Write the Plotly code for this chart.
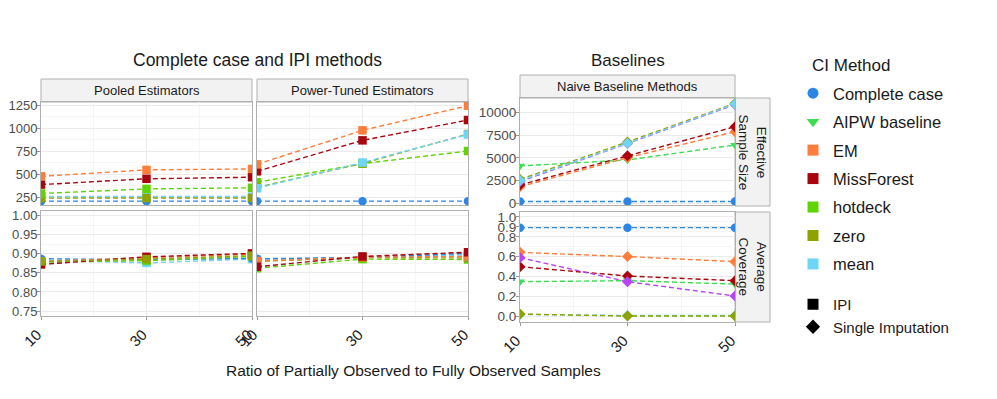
import plotly.graph_objects as go

# page body has an 8px margin, so the figure is drawn inset by OFF
OFF = 8
W, H = 997 - 2 * OFF, 399 - 2 * OFF

ratio = [10, 30, 50]

# effective sample size, IPI (pooled estimators)
ess_pool_cc = [205, 205, 205]
ess_pool_em = [475, 545, 555]
ess_pool_mf = [385, 448, 465]
ess_pool_hd = [288, 338, 350]
ess_pool_zero = [238, 238, 240]
ess_pool_mean = [255, 255, 255]

# effective sample size, IPI (power-tuned)
ess_pt_cc = [205, 205, 205]
ess_pt_em = [605, 975, 1243]
ess_pt_mf = [529, 866, 1087]
ess_pt_hd = [410, 613, 750]
ess_pt_zero = [355, 615, 935]
ess_pt_mean = [345, 625, 930]

# average coverage, IPI (pooled)
cov_pool_cc = [0.887, 0.884, 0.888]
cov_pool_em = [0.880, 0.889, 0.899]
cov_pool_mf = [0.872, 0.892, 0.901]
cov_pool_hd = [0.878, 0.882, 0.893]
cov_pool_zero = [0.880, 0.886, 0.895]
cov_pool_mean = [0.883, 0.876, 0.886]

# average coverage, IPI (power-tuned)
cov_pt_cc = [0.887, 0.890, 0.901]
cov_pt_em = [0.881, 0.891, 0.893]
cov_pt_mf = [0.866, 0.893, 0.904]
cov_pt_hd = [0.862, 0.886, 0.885]
cov_pt_zero = [0.880, 0.890, 0.889]
cov_pt_mean = [0.885, 0.891, 0.897]

# naive baselines
ess_nv_cc = [200, 200, 200]
ess_nv_aipw = [4120, 4780, 6430]
ess_nv_em = [1830, 5030, 7900]
ess_nv_mf = [2020, 5250, 8450]
ess_nv_zero = [2640, 6770, 11030]
ess_nv_mean = [2500, 6620, 10960]
ess_nv_other = [2400, 6600, 10900]

cov_nv_cc = [0.892, 0.892, 0.892]
cov_nv_aipw = [0.347, 0.357, 0.323]
cov_nv_em = [0.643, 0.600, 0.549]
cov_nv_mf = [0.498, 0.404, 0.357]
cov_nv_zero = [0.02, 0.0, 0.0]
cov_nv_mean = [0.017, 0.005, 0.005]
cov_nv_other = [0.589, 0.347, 0.202]

ess_ticks = [250, 500, 750, 1000, 1250]
cov_ticks = [0.75, 0.80, 0.85, 0.90, 0.95, 1.00]
nv_ess_ticks = [0, 2500, 5000, 7500, 10000]
nv_ess_text = ["0", "2500", "5000", "7500", "10000"]
nv_cov_ticks = [0.0, 0.2, 0.4, 0.6, 0.8, 0.9, 1.0]
nv_cov_text = ["0.0", "0.2", "0.4", "0.6", "0.8", "0.9", "1.0"]

colors = {
    "Complete case": "#2B86E8",
    "AIPW baseline": "#3EDC52",
    "EM": "#FF7D3B",
    "MissForest": "#A8050F",
    "hotdeck": "#5ED400",
    "zero": "#8FA300",
    "mean": "#6ED6F5",
    "other": "#B545F5",
}
symbols = {"Complete case": "circle", "AIPW baseline": "triangle-down"}


def px(x):
    return (x - OFF) / W


def py(y):
    return 1 - (y - OFF) / H


def xd(a, b):
    return [px(a), px(b)]


def yd(top, bottom):
    return [py(bottom), py(top)]


fig = go.Figure()


def add_series(name, ys, ax, default_symbol):
    fig.add_trace(go.Scatter(
        x=ratio, y=ys, mode="lines+markers", name=name, showlegend=False,
        xaxis="x" + ax, yaxis="y" + ax,
        line=dict(color=colors[name], width=1.4, dash="5px,3px"),
        marker=dict(color=colors[name], size=8.5, symbol=symbols.get(name, default_symbol)),
    ))


panels = [
    ("", "square", [("Complete case", ess_pool_cc), ("mean", ess_pool_mean), ("zero", ess_pool_zero),
                    ("hotdeck", ess_pool_hd), ("MissForest", ess_pool_mf), ("EM", ess_pool_em)]),
    ("2", "square", [("Complete case", ess_pt_cc), ("hotdeck", ess_pt_hd), ("zero", ess_pt_zero),
                     ("mean", ess_pt_mean), ("MissForest", ess_pt_mf), ("EM", ess_pt_em)]),
    ("3", "diamond", [("Complete case", ess_nv_cc), ("AIPW baseline", ess_nv_aipw), ("EM", ess_nv_em),
                      ("MissForest", ess_nv_mf), ("zero", ess_nv_zero), ("other", ess_nv_other),
                      ("mean", ess_nv_mean)]),
    ("4", "square", [("mean", cov_pool_mean), ("Complete case", cov_pool_cc), ("hotdeck", cov_pool_hd),
                     ("EM", cov_pool_em), ("MissForest", cov_pool_mf), ("zero", cov_pool_zero)]),
    ("5", "square", [("mean", cov_pt_mean), ("Complete case", cov_pt_cc), ("hotdeck", cov_pt_hd),
                     ("zero", cov_pt_zero), ("EM", cov_pt_em), ("MissForest", cov_pt_mf)]),
    ("6", "diamond", [("Complete case", cov_nv_cc), ("AIPW baseline", cov_nv_aipw), ("EM", cov_nv_em),
                      ("MissForest", cov_nv_mf), ("mean", cov_nv_mean), ("zero", cov_nv_zero),
                      ("other", cov_nv_other)]),
]
for ax, sym, series in panels:
    for name, ys in series:
        add_series(name, ys, ax, sym)

# legend entries
for name in ["Complete case", "AIPW baseline", "EM", "MissForest", "hotdeck", "zero", "mean"]:
    fig.add_trace(go.Scatter(
        x=[None], y=[None], mode="markers", name=name, legend="legend", legendgroup=name,
        marker=dict(color=colors[name], size=11, symbol=symbols.get(name, "square")),
    ))
for name, sym in [("IPI", "square"), ("Single Imputation", "diamond")]:
    fig.add_trace(go.Scatter(
        x=[None], y=[None], mode="markers", name=name, legend="legend2",
        marker=dict(color="black", size=11, symbol=sym),
    ))

grid = "#EBEBEB"
border = "#B0B0B0"


def xaxis(dom, anchor, labels):
    return dict(
        domain=dom, anchor=anchor, range=[10, 50], tickvals=ratio, automargin=False,
        showticklabels=labels, tickangle=-45, tickfont=dict(size=15, color="#1A1A1A"),
        ticklabelshift=-4,
        ticks="outside" if labels else "", ticklen=3, tickcolor="#999999",
        showgrid=True, gridcolor=grid, gridwidth=1,
        minor=dict(tickvals=[20, 40], showgrid=True, gridcolor="#F5F5F5"),
        showline=True, mirror=True, linecolor=border, linewidth=1, zeroline=False,
    )


def yaxis(dom, anchor, rng, ticks, labels, fmt=None, text=None, size=13):
    d = dict(
        domain=dom, anchor=anchor, range=rng, tickvals=ticks, automargin=False,
        showticklabels=labels, tickfont=dict(size=size, color="#4D4D4D"), ticklabelstandoff=-3,
        ticks="outside" if labels else "", ticklen=3, tickcolor="#999999",
        showgrid=True, gridcolor=grid, gridwidth=1,
        minor=dict(showgrid=True, gridcolor="#F5F5F5",
                   tickvals=[(a + b) / 2 for a, b in zip(ticks[:-1], ticks[1:])]),
        showline=True, mirror=True, linecolor=border, linewidth=1, zeroline=False,
    )
    if fmt:
        d["tickformat"] = fmt
    if text:
        d["ticktext"] = text
    return d


top_l = yd(102, 205)
bot_l = yd(211, 316)
top_r = yd(98, 205)
bot_r = yd(212, 322)

fig.update_layout(
    width=W, height=H,
    margin=dict(l=0, r=0, t=0, b=0, autoexpand=False),
    paper_bgcolor="white", plot_bgcolor="white",
    font=dict(family="Liberation Sans, Arial, sans-serif", color="#1A1A1A"),
    xaxis=xaxis(xd(41, 252), "y", False),
    yaxis=yaxis(top_l, "x", [163, 1283], ess_ticks, True),
    xaxis2=xaxis(xd(257, 468), "y2", False),
    yaxis2=yaxis(top_l, "x2", [163, 1283], ess_ticks, False),
    xaxis3=xaxis(xd(520, 735), "y3", False),
    yaxis3=yaxis(top_r, "x3", [-190, 11620], nv_ess_ticks, True, text=nv_ess_text, size=13.5),
    xaxis4=xaxis(xd(41, 252), "y4", True),
    yaxis4=yaxis(bot_l, "x4", [0.737, 1.012], cov_ticks, True, fmt=".2f"),
    xaxis5=xaxis(xd(257, 468), "y5", True),
    yaxis5=yaxis(bot_l, "x5", [0.737, 1.012], cov_ticks, False),
    xaxis6=xaxis(xd(520, 735), "y6", True),
    yaxis6=yaxis(bot_r, "x6", [-0.06, 1.05], nv_cov_ticks, True, text=nv_cov_text, size=13.5),
    legend=dict(x=px(793), y=py(76), xanchor="left", yanchor="top",
                font=dict(size=16.5, color="#1A1A1A"), bgcolor="rgba(0,0,0,0)",
                traceorder="grouped", tracegroupgap=4),
    legend2=dict(x=px(793), y=py(288), xanchor="left", yanchor="top",
                 font=dict(size=15, color="#1A1A1A"), bgcolor="rgba(0,0,0,0)"),
)

shapes = []
annotations = []


def strip(x0, x1, y0, y1, text, angle=0, size=13):
    shapes.append(dict(type="rect", xref="paper", yref="paper",
                       x0=px(x0), x1=px(x1), y0=py(y1), y1=py(y0),
                       fillcolor="#F2F2F2", line=dict(color=border, width=1), layer="below"))
    annotations.append(dict(xref="paper", yref="paper", x=px((x0 + x1) / 2), y=py((y0 + y1) / 2),
                            text=text, showarrow=False, textangle=angle,
                            font=dict(size=size, color="#1A1A1A"), xanchor="center", yanchor="middle"))


strip(41, 252, 79, 102, "Pooled Estimators")
strip(257, 468, 79, 102, "Power-Tuned Estimators")
strip(520, 735, 75, 98, "Naive Baseline Methods")
strip(735, 770, 98, 206, "Effective<br>Sample Size", angle=90, size=13.5)
strip(735, 770, 212, 322, "Average<br>Coverage", angle=90, size=13.5)

annotations += [
    dict(xref="paper", yref="paper", x=px(258), y=py(60), text="Complete case and IPI methods",
         showarrow=False, font=dict(size=17.5, color="#1A1A1A"), xanchor="center", yanchor="middle"),
    dict(xref="paper", yref="paper", x=px(628), y=py(60), text="Baselines",
         showarrow=False, font=dict(size=17, color="#1A1A1A"), xanchor="center", yanchor="middle"),
    dict(xref="paper", yref="paper", x=px(413), y=py(370),
         text="Ratio of Partially Observed to Fully Observed Samples",
         showarrow=False, font=dict(size=15.5, color="#1A1A1A"), xanchor="center", yanchor="middle"),
    dict(xref="paper", yref="paper", x=px(810), y=py(66), text="CI Method",
         showarrow=False, font=dict(size=17, color="#1A1A1A"), xanchor="left", yanchor="middle"),
]

fig.update_layout(shapes=shapes, annotations=annotations)

fig.write_html("out.html")
